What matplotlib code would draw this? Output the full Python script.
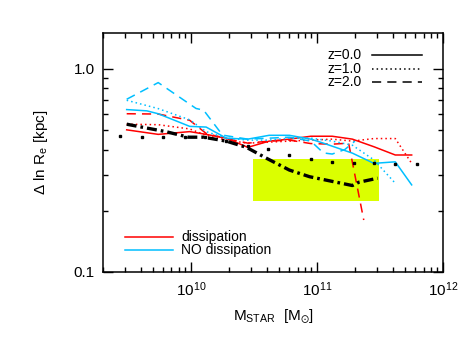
import numpy as np
import matplotlib
matplotlib.use("Agg")
import matplotlib.pyplot as plt
from matplotlib.patches import Rectangle
from matplotlib.ticker import LogLocator, NullFormatter, FixedLocator, FixedFormatter

plt.rcParams['font.family'] = ['Liberation Sans', 'DejaVu Sans']
plt.rcParams['mathtext.fontset'] = 'custom'
plt.rcParams['mathtext.rm'] = 'Liberation Sans'
plt.rcParams['mathtext.default'] = 'regular'

# ------------------------------------------------------
# data (log10 stellar mass, scatter in ln Re)
# ------------------------------------------------------
# dissipation, z=0.0
diss_z0_logm = [9.49, 9.74, 9.99, 10.12, 10.28, 10.45, 10.62, 10.78, 10.95, 11.12, 11.28, 11.45, 11.62, 11.75]
diss_z0_val = [0.50, 0.475, 0.49, 0.475, 0.455, 0.41, 0.44, 0.45, 0.465, 0.465, 0.45, 0.413, 0.376, 0.376]
# dissipation, z=1.0
diss_z1_logm = [9.49, 9.74, 9.99, 10.12, 10.28, 10.45, 10.62, 10.78, 10.95, 11.12, 11.28, 11.45, 11.62, 11.75]
diss_z1_val = [0.533, 0.53, 0.505, 0.47, 0.445, 0.43, 0.435, 0.44, 0.445, 0.45, 0.44, 0.453, 0.453, 0.342]
# dissipation, z=2.0
diss_z2_logm = [9.49, 9.74, 9.99, 10.12, 10.28, 10.45, 10.62, 10.78, 10.95, 11.12, 11.25, 11.37]
diss_z2_val = [0.60, 0.598, 0.557, 0.48, 0.453, 0.43, 0.44, 0.445, 0.428, 0.425, 0.43, 0.18]
# NO dissipation, z=0.0
nodiss_z0_logm = [9.49, 9.65, 9.74, 9.99, 10.12, 10.28, 10.45, 10.62, 10.78, 10.95, 11.05, 11.28, 11.45, 11.62, 11.75]
nodiss_z0_val = [0.629, 0.62, 0.60, 0.52, 0.516, 0.455, 0.45, 0.47, 0.47, 0.45, 0.43, 0.384, 0.342, 0.348, 0.268]
# NO dissipation, z=1.0
nodiss_z1_logm = [9.49, 9.74, 9.99, 10.12, 10.28, 10.45, 10.62, 10.78, 10.95, 11.12, 11.28, 11.45, 11.62]
nodiss_z1_val = [0.699, 0.636, 0.56, 0.49, 0.455, 0.445, 0.445, 0.455, 0.455, 0.44, 0.42, 0.356, 0.273]
# NO dissipation, z=2.0
nodiss_z2_logm = [9.49, 9.74, 10.04, 10.10, 10.25, 10.45, 10.62, 10.78, 10.95, 11.05, 11.12, 11.22, 11.30]
nodiss_z2_val = [0.707, 0.854, 0.637, 0.625, 0.471, 0.45, 0.455, 0.46, 0.44, 0.385, 0.38, 0.40, 0.44]

# black squares
obs_logm = [9.44, 9.61, 9.78, 9.95, 10.11, 10.28, 10.45, 10.61, 10.78, 10.95, 11.12, 11.29, 11.45, 11.62, 11.79]
obs_val = [0.467, 0.462, 0.462, 0.46, 0.46, 0.44, 0.415, 0.401, 0.377, 0.359, 0.348, 0.343, 0.342, 0.340, 0.338]

# black thick dash-dot
fit_logm = [9.49, 9.65, 9.80, 9.98, 10.10, 10.28, 10.44, 10.60, 10.78, 10.94, 11.13, 11.28, 11.33, 11.48]
fit_val = [0.533, 0.51, 0.49, 0.46, 0.46, 0.44, 0.41, 0.362, 0.317, 0.294, 0.278, 0.266, 0.276, 0.289]

# shaded box
box_m = [3.1e10, 3.1e11]
box_val = [0.223, 0.36]

RED = '#ff0000'
BLUE = '#00bfff'
YELLOW = '#dbff00'

fig = plt.figure(figsize=(4.74, 3.39), dpi=100)
ax = fig.add_axes([0.217, 0.198, 0.718, 0.705])

ax.add_patch(Rectangle((box_m[0], box_val[0]), box_m[1] - box_m[0], box_val[1] - box_val[0],
                       facecolor=YELLOW, edgecolor='none', zorder=1))

def m(logm):
    return 10.0 ** np.array(logm)

lw = 1.1
ax.plot(m(diss_z0_logm), diss_z0_val, color=RED, lw=lw, ls='-', zorder=3)
ax.plot(m(diss_z1_logm), diss_z1_val, color=RED, lw=lw, ls=(0, (1, 2)), zorder=3)
ax.plot(m(diss_z2_logm), diss_z2_val, color=RED, lw=lw, ls=(0, (6, 4)), zorder=3)
ax.plot(m(nodiss_z0_logm), nodiss_z0_val, color=BLUE, lw=lw, ls='-', zorder=3)
ax.plot(m(nodiss_z1_logm), nodiss_z1_val, color=BLUE, lw=lw, ls=(0, (1, 2)), zorder=3)
ax.plot(m(nodiss_z2_logm), nodiss_z2_val, color=BLUE, lw=lw, ls=(0, (6, 4)), zorder=3)

ax.plot(m(obs_logm), obs_val, ls='none', marker='s', ms=2.0, color='black', zorder=4)
ax.plot(m(fit_logm), fit_val, color='black', lw=2.4, ls=(0, (3, 1.2, 0.8, 1.2)), zorder=4)

ax.set_xscale('log')
ax.set_yscale('log')
ax.set_xlim(2e9, 1e12)
ax.set_ylim(0.1, 1.5)

ax.yaxis.set_major_locator(FixedLocator([0.1, 1.0]))
ax.yaxis.set_major_formatter(FixedFormatter(['0.1', '1.0']))
ax.yaxis.set_minor_locator(LogLocator(base=10, subs=np.arange(2, 10)))
ax.yaxis.set_minor_formatter(NullFormatter())
ax.xaxis.set_minor_locator(LogLocator(base=10, subs=np.arange(2, 10)))
ax.xaxis.set_minor_formatter(NullFormatter())

ax.tick_params(which='both', direction='in', top=True, right=True, labelsize=11, width=1.0)
ax.tick_params(which='major', length=7, pad=6)
ax.tick_params(which='minor', length=3.5)
for s in ax.spines.values():
    s.set_linewidth(1.1)

ax.set_xlabel(r'M$_{STAR}$  [M$_{\odot}$]', fontsize=11, labelpad=6)
ax.set_ylabel(r'$\Delta$ ln R$_e$ [kpc]', fontsize=11, labelpad=17)

# redshift key (upper right)
key_y = [0.908, 0.849, 0.796]
key_lbl = ['z=0.0', 'z=1.0', 'z=2.0']
key_ls = ['-', (0, (1, 2)), (0, (6, 4))]
for yk, lb, lsk in zip(key_y, key_lbl, key_ls):
    ax.text(0.659, yk, lb, transform=ax.transAxes, fontsize=10, va='center', ha='left')
    ax.plot([0.791, 0.938], [yk, yk], transform=ax.transAxes, color='black', lw=1.1, ls=lsk)

# model key (lower left)
ax.plot([0.065, 0.206], [0.148, 0.148], transform=ax.transAxes, color=RED, lw=1.1)
ax.text(0.231, 0.148, 'dissipation', transform=ax.transAxes, fontsize=10, va='center', ha='left')
ax.plot([0.065, 0.206], [0.092, 0.092], transform=ax.transAxes, color=BLUE, lw=1.1)
ax.text(0.231, 0.092, 'NO dissipation', transform=ax.transAxes, fontsize=10, va='center', ha='left')

fig.savefig('out.png', dpi=100)
